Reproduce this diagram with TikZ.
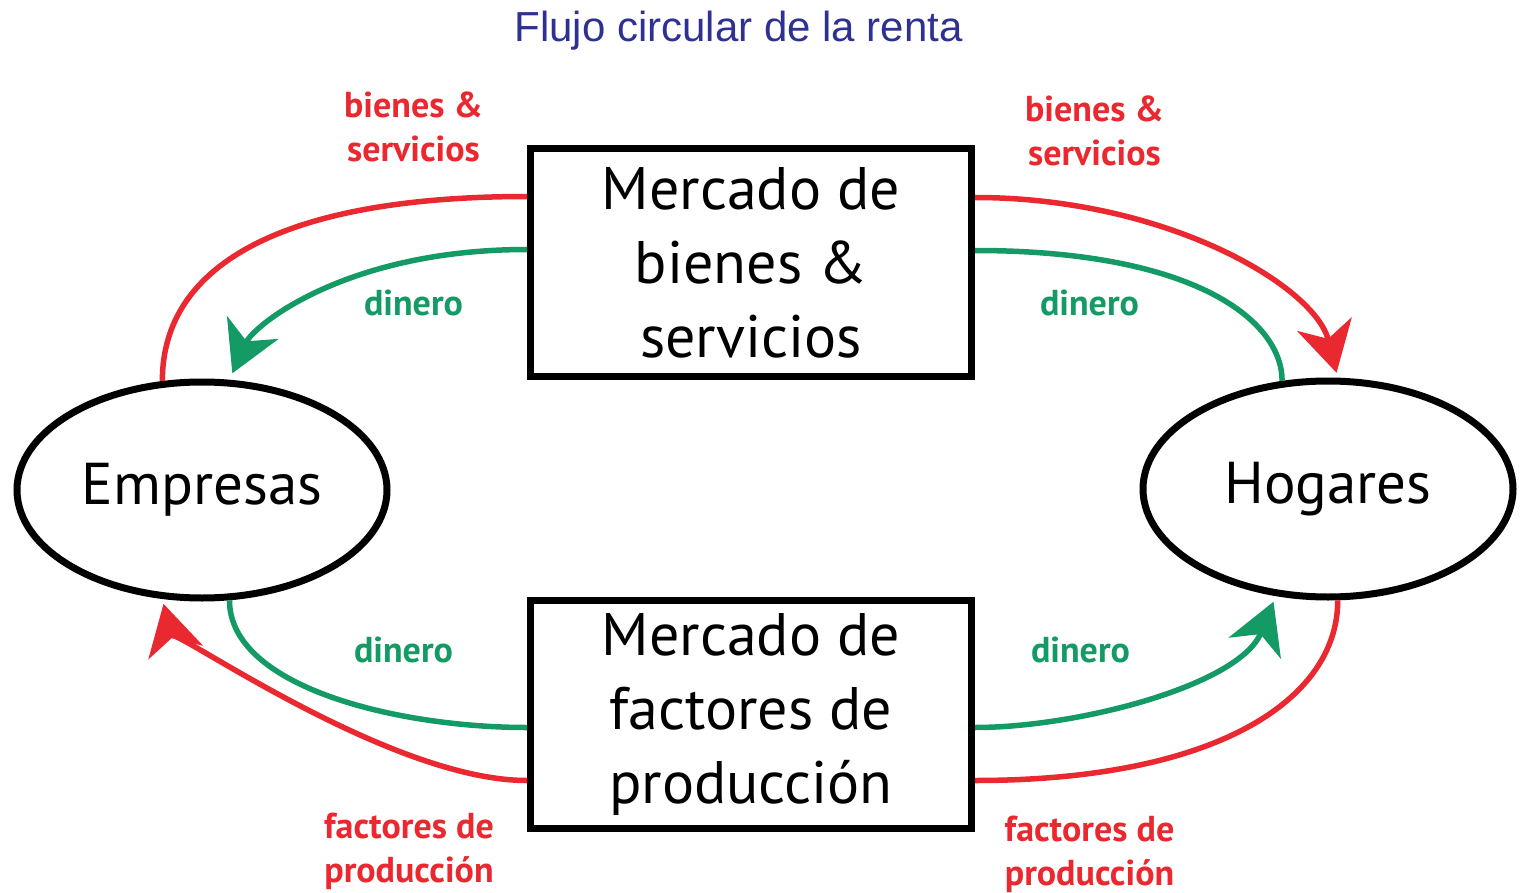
\documentclass[tikz,border=0pt]{standalone}
\usepackage{fontspec}
\setmainfont{PT Sans}
\newfontfamily\titlefont{Liberation Sans}
\usepackage{tikz}
\usetikzlibrary{shapes, arrows.meta, positioning, calc}
\definecolor{flowred}{RGB}{234,40,48}
\definecolor{flowgreen}{RGB}{20,154,100}
\definecolor{titleblue}{RGB}{46,49,146}

\begin{document}
\begin{tikzpicture}[x=1pt, y=1pt,
	market/.style={draw, line width=7pt, minimum width=441pt, minimum height=228pt, align=center, font=\fontsize{60}{74}\selectfont},
	agent/.style={draw, ellipse, line width=7pt, minimum width=370pt, minimum height=216pt, font=\fontsize{59}{70}\selectfont},
	goods/.style={flowred, line width=5.5pt},
	money/.style={flowgreen, line width=5.5pt},
	flowtip/.style={-{Stealth[length=50pt, width=56pt, inset=15pt]}},
	redlabel/.style={text=flowred, align=center, font=\bfseries\fontsize{36}{44}\selectfont},
	greenlabel/.style={text=flowgreen, font=\bfseries\fontsize{36}{44}\selectfont}]
				\useasboundingbox (0,0) rectangle (1522,-893);
				\node[font=\titlefont\fontsize{42}{50}\selectfont, text=titleblue, anchor=base] (title) at (738.5,-42) {Flujo circular de la renta};
				
				\node[market] (mgoods) at (751,-262.5) {Mercado de\\bienes \&\\servicios};
				\node[market] (mfactors) at (751,-714.5) {Mercado de\\factores de\\producción};
				\node[agent] (firms) at (202,-490) {Empresas};
				\node[agent] (homes) at (1328,-489) {Hogares};
				
				%% bienes y servicios
				\draw[goods] (firms.110) to[out=90, in=180, out distance=120pt, in distance=237pt] ([yshift=66pt]mgoods.west);
				\draw[goods, flowtip, shorten >=5pt] ([yshift=65pt]mgoods.east) to[out=0, in=104, out distance=190pt, in distance=95pt] (homes.85);
				\draw[money] (homes.113) to[out=90, in=0, out distance=60pt, in distance=220pt] ([yshift=12pt]mgoods.east);
				\draw[money, flowtip, shorten >=7pt] ([yshift=13pt]mgoods.west) to[out=180, in=66, out distance=180pt, in distance=60pt] (firms.76);
				
				%% factores de produccion
				\draw[goods] (homes.275) to[out=-90, in=0, out distance=100pt, in distance=240pt] ([yshift=-66pt]mfactors.east);
				\draw[goods, flowtip, shorten >=5pt] ([yshift=-66pt]mfactors.west) to[out=180, in=-76, out distance=140pt, in distance=25pt] (firms.250);
				\draw[money] (firms.284) to[out=-90, in=180, out distance=87pt, in distance=129pt] ([yshift=-13pt]mfactors.west);
				\draw[money, flowtip, shorten >=6pt] ([yshift=-13pt]mfactors.east) to[out=0, in=248, out distance=103pt, in distance=96pt] (homes.244);
				
				\node[redlabel, anchor=base] (goodsL) at (413.5,-162) {bienes \&\\servicios};
				\node[redlabel, anchor=base] (goodsR) at (1094.5,-166) {bienes \&\\servicios};
				\node[greenlabel, anchor=base] (moneyTL) at (413.5,-315) {dinero};
				\node[greenlabel, anchor=base] (moneyTR) at (1089.5,-315) {dinero};
				\node[greenlabel, anchor=base] (moneyBL) at (403.5,-662) {dinero};
				\node[greenlabel, anchor=base] (moneyBR) at (1080.5,-662) {dinero};
				\node[redlabel, anchor=base] (factorsL) at (409,-882) {factores de\\producción};
				\node[redlabel, anchor=base] (factorsR) at (1089.5,-885) {factores de\\producción};
\end{tikzpicture}
\end{document}
